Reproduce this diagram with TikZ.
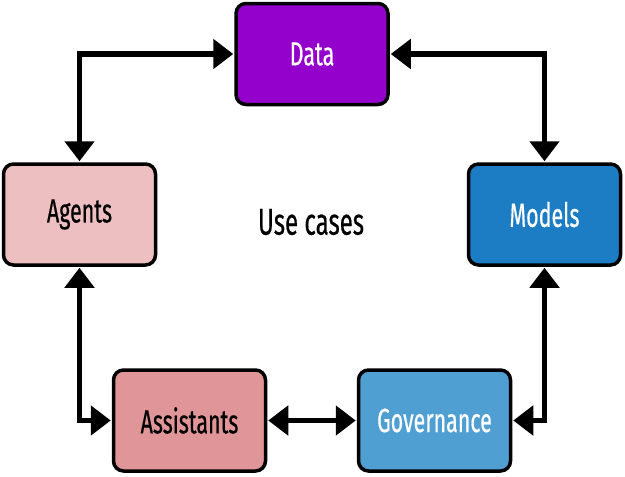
\documentclass[tikz,border=0pt]{standalone}
\usepackage{fontspec}
\setmainfont[FakeStretch=0.64,FakeBold=0.45]{Fira Sans}
\usetikzlibrary{arrows.meta}
\definecolor{cData}{HTML}{9400CC}
\definecolor{cAgents}{HTML}{EDBFC1}
\definecolor{cModels}{HTML}{1C7DC4}
\definecolor{cAssist}{HTML}{E09598}
\definecolor{cGov}{HTML}{4F9FD3}
\tikzset{
  box/.style={draw=black, line width=3.5pt, rounded corners=10pt, minimum width=152pt, minimum height=101pt, inner sep=0pt, font=\fontsize{33.5}{36}\selectfont},
  conn/.style={line width=5.5pt, {Triangle[length=20pt,width=29pt]}-{Triangle[length=20pt,width=29pt]}, shorten <=1pt, shorten >=1pt}
}
\begin{document}
\begin{tikzpicture}[x=1pt,y=-1pt]
\useasboundingbox (0,0) rectangle (625,477);
\node[box, fill=cData, text=white] (data) at (312,54) {Data};
\node[box, fill=cAgents, text=black] (agents) at (79.5,214.5) {Agents};
\node[box, fill=cModels, text=white] (models) at (544.5,214.5) {Models};
\node[box, fill=cAssist, text=black] (assist) at (189.5,420.5) {Assistants};
\node[box, fill=cGov, text=white] (gov) at (434.5,420.5) {Governance};
\node[font=\fontsize{37.5}{40}\selectfont] (uc) at (311,222) {Use cases};
\draw[conn] (agents.north) |- (data.west);
\draw[conn] (data.east) -| (models.north);
\draw[conn] (agents.south) |- (assist.west);
\draw[conn] (models.south) |- (gov.east);
\draw[conn] (assist.east) -- (gov.west);
\end{tikzpicture}
\end{document}
